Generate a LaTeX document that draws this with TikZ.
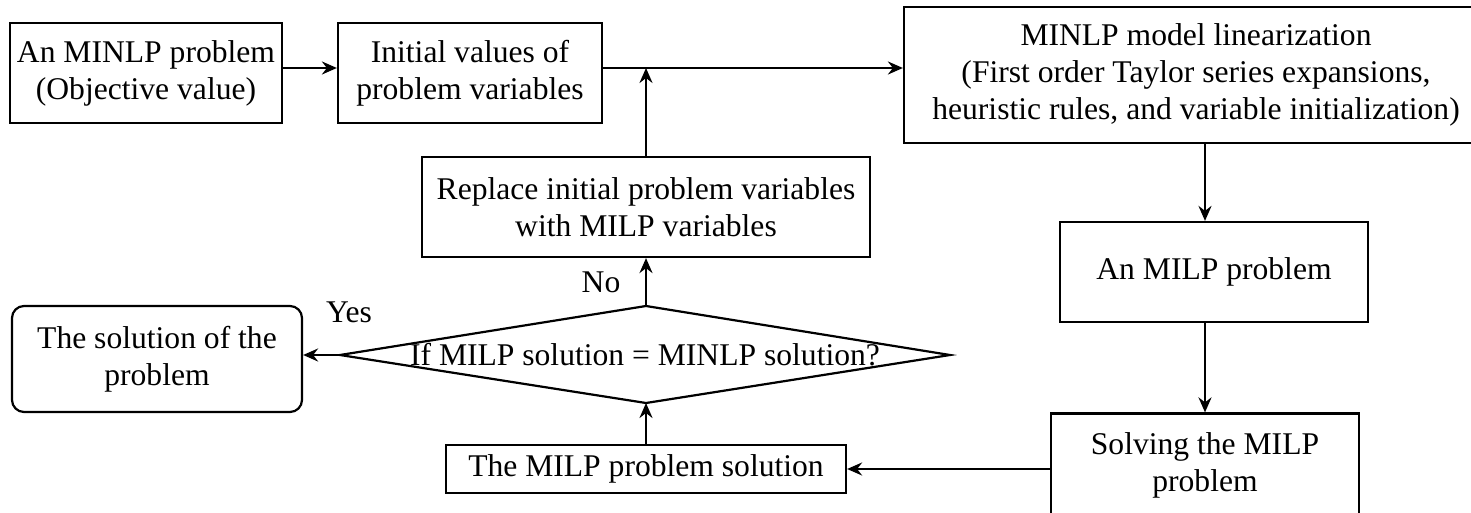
\documentclass[tikz,border=0pt]{standalone}
\usepackage{fontspec}
\setmainfont{Liberation Serif}
\usetikzlibrary{arrows.meta}
\begin{document}
\begin{tikzpicture}[x=1pt,y=-1pt,
  txt/.style={font=\fontsize{31.6}{37}\selectfont},
  box/.style={txt, draw, line width=2.2pt, align=center, inner sep=0pt},
  conn/.style={line width=2.4pt, -{Stealth[length=15pt,width=13pt,inset=5pt]}}]
\clip (0,0) rectangle (1471,513);

% process boxes
\node[box, minimum width=272pt, minimum height=100pt] (minlp) at (146,73)
  {An MINLP problem\\(Objective value)};
\node[box, minimum width=264pt, minimum height=100pt] (init) at (470,73)
  {Initial values of\\problem variables};
\node[box, minimum width=584pt, minimum height=136pt] (lin) at (1196,75)
  {MINLP model linearization\\(First order Taylor series expansions,\\heuristic rules, and variable initialization)};
\node[box, minimum width=308pt, minimum height=100pt] (milp) at (1214,272)
  {An MILP problem};
\node[box, minimum width=308pt, minimum height=103pt] (solve) at (1205,465)
  {Solving the MILP\\problem};
\node[box, minimum width=400pt, minimum height=48pt] (msol) at (646,469)
  {The MILP problem solution};
\node[box, minimum width=448pt, minimum height=100pt] (repl) at (646,207)
  {Replace initial problem variables\\with MILP variables};
\node[box, rounded corners=12pt, minimum width=290pt, minimum height=106pt] (final) at (157,359)
  {The solution of the\\problem};

% decision diamond
\coordinate (dt) at (646,306);
\coordinate (dr) at (950,355);
\coordinate (db) at (646,403);
\coordinate (dl) at (340,355);
\draw[line width=2.2pt] (dt) -- (dr) -- (db) -- (dl) -- cycle;
\node[txt] (cond) at (645,355) {If MILP solution = MINLP solution?};

% connectors
\draw[conn] ([yshift=5pt]minlp.east) -- ([yshift=5pt]minlp.east -| init.west);
\coordinate (join) at ([yshift=5pt]init.east -| repl.north);
\draw[conn] ([yshift=5pt]init.east) -- ([yshift=5pt]init.east -| lin.west);
\draw[conn] (repl.north) -- (join);
\draw[conn] ([xshift=-9pt]milp.north |- lin.south) -- ([xshift=-9pt]milp.north);
\draw[conn] (milp.south -| solve.north) -- (solve.north);
\draw[conn] (solve.west |- msol.east) -- (msol.east);
\draw[conn] (msol.north) -- (db);
\draw[conn] (dt) -- (repl.south);
\draw[conn] (dl) -- (final.east |- dl);

% branch labels
\node[txt] (no) at (601,282) {No};
\node[txt] (yes) at (349,312) {Yes};
\end{tikzpicture}
\end{document}
